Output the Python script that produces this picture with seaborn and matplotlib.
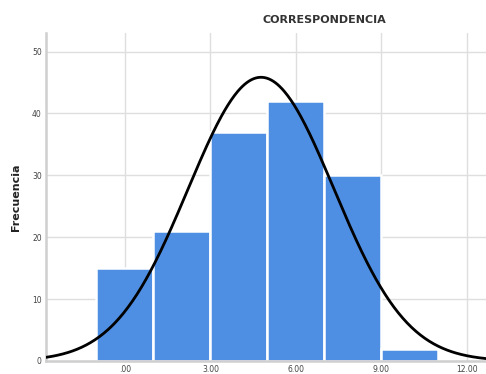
import numpy as np
import pandas as pd
import matplotlib
matplotlib.use("Agg")
import matplotlib.pyplot as plt
import seaborn as sns

# Histogram data: bin centers and frequencies
bin_centers = [0, 2, 4, 6, 8, 10]
frequencies = [15, 21, 37, 42, 30, 2]
bin_width = 2

x_ticks = [0, 3, 6, 9, 12]
x_tick_labels = [".00", "3.00", "6.00", "9.00", "12.00"]
y_ticks = [0, 10, 20, 30, 40, 50]

sns.set_theme(style="white")
plt.rcParams['font.family'] = ['DejaVu Sans']

df = pd.DataFrame({"CORRESPONDENCIA": bin_centers, "n": frequencies})
edges = [c - bin_width / 2 for c in bin_centers] + [bin_centers[-1] + bin_width / 2]

fig = plt.figure(figsize=(4.86, 3.74), dpi=100)
ax = fig.add_axes([46 / 486, 1 - 361 / 374, 1 - 46 / 486, (361 - 33) / 374])

ax.grid(True, color="#dedede", linewidth=1.0, zorder=0)
ax.set_axisbelow(True)

sns.histplot(data=df, x="CORRESPONDENCIA", weights="n", bins=edges, ax=ax,
             color="#4f8fe3", alpha=1, edgecolor="white", linewidth=1.8, zorder=2)

# Normal curve fitted to the grouped data
vals = np.repeat(bin_centers, frequencies).astype(float)
mu, sd = vals.mean(), vals.std(ddof=1)
total = sum(frequencies)
xs = np.linspace(-2.8, 12.7, 400)
ys = total * bin_width / (sd * np.sqrt(2 * np.pi)) * np.exp(-0.5 * ((xs - mu) / sd) ** 2)
ax.plot(xs, ys, color="black", linewidth=2, zorder=3)

ax.set_xlim(-2.77, 12.67)
ax.set_ylim(0, 53)
ax.set_xticks(x_ticks)
ax.set_xticklabels(x_tick_labels)
ax.set_yticks(y_ticks)
ax.tick_params(axis="both", labelsize=5.5, labelcolor="#444444", length=0, pad=3)

for side in ["top", "right"]:
    ax.spines[side].set_visible(False)
for side in ["left", "bottom"]:
    ax.spines[side].set_color("#cfcfcf")
    ax.spines[side].set_linewidth(1.8)

ax.set_xlabel("")
ax.set_ylabel("")
fig.text(16 / 486, 1 - 197 / 374, "Frecuencia", rotation=90, ha="center", va="center",
         fontsize=8, fontweight="bold", color="#222222")
fig.text(324 / 486, 1 - 20 / 374, "CORRESPONDENCIA", ha="center", va="center",
         fontsize=8, fontweight="bold", color="#333333")

fig.savefig("out.png", dpi=100)
